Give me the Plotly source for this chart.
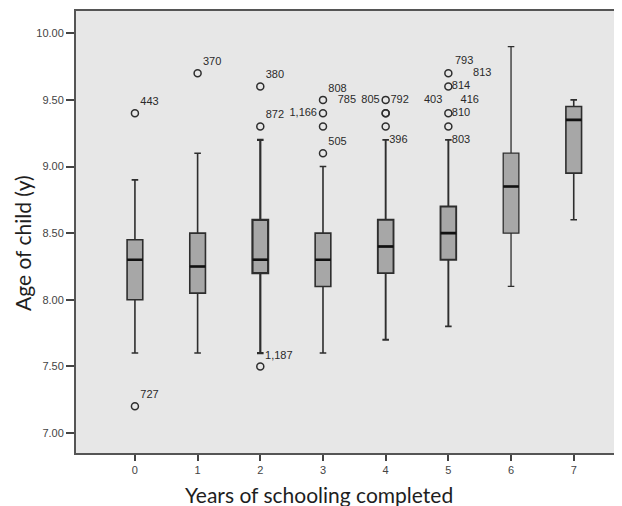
import plotly.graph_objects as go

# ---- data ----
years = [0, 1, 2, 3, 4, 5, 6, 7]
q1 = [8.00, 8.05, 8.20, 8.10, 8.20, 8.30, 8.50, 8.95]
median = [8.30, 8.25, 8.30, 8.30, 8.40, 8.50, 8.85, 9.35]
q3 = [8.45, 8.50, 8.60, 8.50, 8.60, 8.70, 9.10, 9.45]
whisker_low = [7.60, 7.60, 7.60, 7.60, 7.70, 7.80, 8.10, 8.60]
whisker_high = [8.90, 9.10, 9.20, 9.00, 9.20, 9.20, 9.90, 9.50]

outlier_year = [0, 0, 1, 2, 2, 2, 3, 3, 3, 3, 4, 4, 4, 4, 5, 5, 5, 5]
outlier_age = [9.40, 7.20, 9.70, 9.60, 9.30, 7.50, 9.50, 9.40, 9.30, 9.10,
               9.50, 9.40, 9.40, 9.30, 9.70, 9.60, 9.40, 9.30]

label_year = [0, 0, 1, 2, 2, 2, 3, 3, 3, 3, 4, 4, 4, 5, 5, 5, 5, 5, 5, 5]
label_age = [9.40, 7.20, 9.70, 9.60, 9.30, 7.50, 9.50, 9.50, 9.40, 9.10,
             9.50, 9.50, 9.20, 9.70, 9.70, 9.60, 9.50, 9.50, 9.40, 9.20]
label_text = ["443", "727", "370", "380", "872", "1,187", "808", "785", "1,166", "505",
              "805", "792", "396", "793", "813", "814", "403", "416", "810", "803"]

x_title = "Years of schooling completed"
y_title = "Age of child (y)"

# ---- styles (label placement relative to its point) ----
label_pos = ["top right", "top right", "top right", "top right", "top right", "top right",
             "top right", "middle right", "middle left", "top right",
             "middle left", "middle right", "middle right",
             "top right", "middle right", "middle right", "middle left", "middle right",
             "middle right", "middle right"]
label_gap = [7, 7, 7, 7, 7, 6,
             7, 22, 8, 7,
             8, 6, 4,
             9, 38, 4, 8, 18, 4, 4]

BOX_FILL = "#a7a7a7"
LINE = "#2e2e2e"
line_widths = [1.6, 1.6, 2.2, 1.6, 1.9, 1.9, 1.3, 1.6]

fig = go.Figure()

for i, yr in enumerate(years):
    fig.add_trace(go.Box(
        x=[yr], q1=[q1[i]], median=[median[i]], q3=[q3[i]],
        lowerfence=[whisker_low[i]], upperfence=[whisker_high[i]],
        width=0.25, whiskerwidth=0.42,
        fillcolor=BOX_FILL, line=dict(color=LINE, width=line_widths[i]),
        boxpoints=False, showlegend=False, hoverinfo="skip",
    ))
    # bold median line
    fig.add_trace(go.Box(
        x=[yr], q1=[median[i]], median=[median[i]], q3=[median[i]],
        lowerfence=[median[i]], upperfence=[median[i]],
        width=0.25, whiskerwidth=0,
        fillcolor="rgba(0,0,0,0)", line=dict(color="#111111", width=2.6),
        boxpoints=False, showlegend=False, hoverinfo="skip",
    ))

fig.add_trace(go.Scatter(
    x=outlier_year, y=outlier_age, mode="markers",
    marker=dict(symbol="circle-open", size=7, color=LINE, line=dict(width=1.5, color=LINE)),
    showlegend=False, hoverinfo="skip",
))

fig.add_trace(go.Scatter(
    x=label_year, y=label_age, mode="markers+text", text=label_text,
    textposition=label_pos,
    marker=dict(size=label_gap, opacity=0, color="white"),
    textfont=dict(family="Liberation Sans, Arial", size=11, color="#2a2a2a"),
    showlegend=False, hoverinfo="skip",
))

fig.add_annotation(
    text=x_title, xref="paper", yref="paper", x=0.445, y=-0.095,
    xanchor="center", yanchor="middle", showarrow=False,
    font=dict(family="Lato", size=21, color="#1e1e1e"),
)
fig.add_annotation(
    text=y_title, xref="paper", yref="paper", x=-0.099, y=0.475, textangle=-90,
    xanchor="center", yanchor="middle", showarrow=False,
    font=dict(family="Lato", size=21, color="#1e1e1e"),
)

fig.update_layout(
    width=614, height=498,
    margin=dict(l=68, r=0, t=3, b=53),
    paper_bgcolor="white", plot_bgcolor="#e7e7e7",
    boxmode="overlay",
    font=dict(family="Liberation Sans, Arial", size=11, color="#444444"),
    xaxis=dict(
        range=[-0.94, 7.77], tickmode="array", tickvals=years,
        ticktext=[str(v) for v in years],
        showgrid=False, zeroline=False,
        showline=True, linecolor="#555555", linewidth=2, mirror=True,
        ticks="outside", ticklen=6, tickwidth=2, tickcolor="#444444",
        tickfont=dict(size=11, color="#444444"),
    ),
    yaxis=dict(
        range=[6.85, 10.167], tickmode="array",
        tickvals=[7.0, 7.5, 8.0, 8.5, 9.0, 9.5, 10.0],
        ticktext=["7.00", "7.50", "8.00", "8.50", "9.00", "9.50", "10.00"],
        showgrid=False, zeroline=False,
        showline=True, linecolor="#555555", linewidth=2, mirror=False,
        ticks="outside", ticklen=8, tickwidth=2, tickcolor="#444444",
        tickfont=dict(size=11, color="#444444"),
    ),
)

fig.write_html("out.html")
